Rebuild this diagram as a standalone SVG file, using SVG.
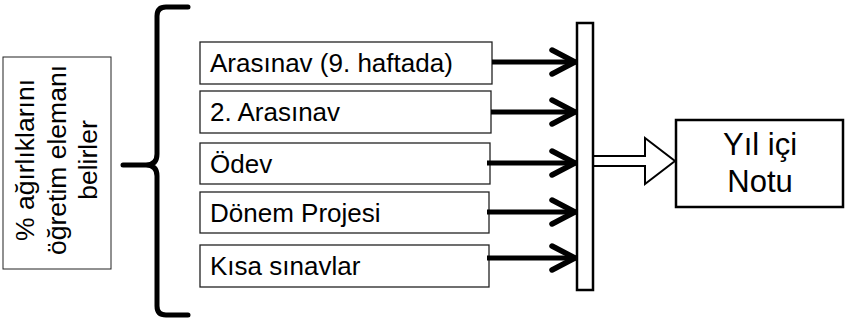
<svg xmlns="http://www.w3.org/2000/svg" width="847" height="320" viewBox="0 0 847 320">
<style>
  text { font-family: "Liberation Sans", Arial, sans-serif; fill: #000; }
  .item rect { fill: #fff; stroke: #222; stroke-width: 1.3; }
  .item text { font-size: 26px; }
  .vt { font-size: 26.5px; text-anchor: middle; }
  .big { font-size: 31px; text-anchor: middle; }
  .conn { fill: none; stroke: #000; stroke-width: 5; }
  .brace { fill: none; stroke: #000; stroke-width: 5; stroke-linecap: round; stroke-linejoin: round; }
</style>
<defs>
  <marker id="chev" markerUnits="userSpaceOnUse" viewBox="0 0 30 30" markerWidth="30" markerHeight="30" refX="27" refY="15" orient="auto">
    <path d="M3,3 L26,15 L3,27" fill="none" stroke="#000" stroke-width="5.5" stroke-linecap="round" stroke-linejoin="miter"/>
  </marker>
</defs>
<rect width="847" height="320" fill="#fff"/>

<g id="weights">
  <rect x="3" y="57" width="108" height="212" fill="#fff" stroke="#222" stroke-width="1"/>
  <g transform="translate(0,160) rotate(-90)">
    <text class="vt" x="0" y="34">% ağırlıklarını</text>
    <text class="vt" x="0" y="66">öğretim elemanı</text>
    <text class="vt" x="0" y="97">belirler</text>
  </g>
</g>

<g id="brace">
  <path class="brace" d="M188,7 L166,7 Q157,7 157,16 L157,154 Q157,165 146,165 L123,165 M146,165 Q157,165 157,176 L157,306 Q157,315 166,315 L188,315"/>
</g>

<g id="n1" class="item"><rect x="200" y="42" width="292" height="42"/><text x="210" y="72">Arasınav (9. haftada)</text></g>
<g id="n2" class="item"><rect x="200" y="91" width="291" height="42"/><text x="210" y="121">2. Arasınav</text></g>
<g id="n3" class="item"><rect x="200" y="143" width="290" height="41"/><text x="210" y="173">Ödev</text></g>
<g id="n4" class="item"><rect x="200" y="192" width="289" height="41"/><text x="210" y="222">Dönem Projesi</text></g>
<g id="n5" class="item"><rect x="200" y="245" width="289" height="42"/><text x="210" y="275">Kısa sınavlar</text></g>

<g id="connectors">
  <path class="conn" d="M492,62 H576" marker-end="url(#chev)"/>
  <path class="conn" d="M491,112 H576" marker-end="url(#chev)"/>
  <path class="conn" d="M487,163 H576" marker-end="url(#chev)"/>
  <path class="conn" d="M487,212 H576" marker-end="url(#chev)"/>
  <path class="conn" d="M487,258 H576" marker-end="url(#chev)"/>
  <polygon points="593,156 645,156 645,138 675,161 645,184 645,166 593,166" fill="#fff" stroke="#000" stroke-width="2"/>
</g>

<g id="bar">
  <rect x="577" y="23" width="16" height="267" fill="#fff" stroke="#000" stroke-width="2.5"/>
</g>

<g id="result">
  <rect x="676" y="120" width="167" height="87" fill="#fff" stroke="#000" stroke-width="2.5"/>
  <text class="big" x="760" y="155">Yıl içi</text>
  <text class="big" x="760" y="192">Notu</text>
</g>
</svg>
